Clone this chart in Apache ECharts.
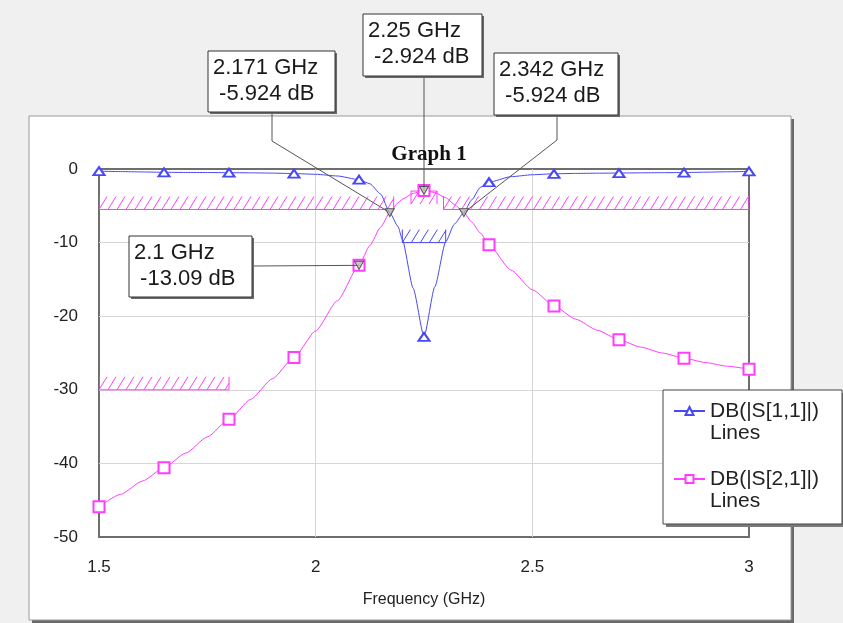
<!DOCTYPE html>
<html>
<head>
<meta charset="utf-8">
<script src="https://cdn.jsdelivr.net/npm/echarts@6/dist/echarts.min.js"></script>
<style>
  html, body { margin: 0; padding: 0; background: #f0f0f0; }
  #main { width: 843px; height: 623px; }
</style>
</head>
<body>
<div id="main"></div>
<script>
// 频率点 (GHz)
var freq = [1.5, 1.55, 1.6, 1.65, 1.7, 1.75, 1.8, 1.85, 1.9, 1.95, 2.0, 2.05, 2.1, 2.125, 2.15, 2.171, 2.19, 2.2,
            2.225, 2.25, 2.275, 2.3, 2.32, 2.342, 2.36, 2.38, 2.4, 2.45, 2.5, 2.55, 2.6, 2.65, 2.7, 2.75, 2.8,
            2.85, 2.9, 2.95, 3.0];
// DB(|S[1,1]|)
var s11 = [-0.3, -0.35, -0.4, -0.45, -0.47, -0.48, -0.5, -0.52, -0.56, -0.62, -0.72, -0.95, -1.45, -2.0, -3.4,
           -5.924, -7.8, -9.6, -16.2, -22.8, -16.0, -9.9, -7.5, -5.924, -4.2, -2.5, -1.8, -1.05, -0.78, -0.65,
           -0.6, -0.57, -0.55, -0.52, -0.5, -0.48, -0.43, -0.38, -0.33];
// DB(|S[2,1]|)
var s21 = [-45.9, -44.2, -42.4, -40.6, -38.6, -36.4, -34.0, -31.3, -28.5, -25.6, -22.0, -17.9, -13.09, -10.4,
           -7.9, -5.924, -4.6, -4.1, -3.3, -2.924, -3.2, -3.9, -4.8, -5.924, -7.2, -8.7, -10.3, -13.7, -16.4,
           -18.6, -20.4, -21.9, -23.2, -24.2, -25.0, -25.7, -26.3, -26.8, -27.2];
// 曲线上显示符号的频率
var symbolFreq = [1.5, 1.65, 1.8, 1.95, 2.1, 2.25, 2.4, 2.55, 2.7, 2.85, 3.0];

// 标记点
var markerFreq = [2.171, 2.25, 2.342, 2.1];
var markerDb = [-5.924, -2.924, -5.924, -13.09];

// 优化目标 (阴影线)
var maskFrom  = [1.5, 2.295, 1.5, 2.22, 2.2];
var maskTo    = [2.18, 3.0, 1.8, 2.28, 2.3];
var maskLevel = [-5.5, -5.5, -30, -3, -10];
var maskSide  = [1, 1, 1, -1, 1];   // 1 = 上方阴影, -1 = 下方
var maskTrace = [1, 1, 1, 1, 0];    // 0 = S11, 1 = S21

var names = ['DB(|S[1,1]|)\nLines', 'DB(|S[2,1]|)\nLines'];
var colors = ['#4848f4', '#ff3cff'];
var font = '"Liberation Sans", Arial, sans-serif';

// 标注框位置
var boxes = [
  {x: 208, y: 51, w: 127, h: 61, anchor: [272, 112], elbow: [272, 141]},
  {x: 363, y: 14, w: 119, h: 62, anchor: null, elbow: null},
  {x: 494, y: 53, w: 124, h: 62, anchor: [557, 115], elbow: [557, 140]},
  {x: 129, y: 236, w: 123, h: 61, anchor: [252, 266], elbow: null}
];

function isSymbolFreq(f) {
  for (var i = 0; i < symbolFreq.length; i++) {
    if (Math.abs(symbolFreq[i] - f) < 1e-6) return true;
  }
  return false;
}
function lineData(vals) {
  return freq.map(function (f, i) {
    return isSymbolFreq(f) ? [f, vals[i]] : {value: [f, vals[i]], symbol: 'none'};
  });
}

var maskData = maskFrom.map(function (f, i) {
  return [f, maskTo[i], maskLevel[i], maskSide[i], maskTrace[i]];
});

function renderMask(params, api) {
  var lv = api.value(2), side = api.value(3), col = colors[api.value(4)];
  var a = api.coord([api.value(0), lv]), b = api.coord([api.value(1), lv]);
  var h = 13, step = 9, dx = 8;
  var st = {stroke: col, lineWidth: 1};
  var kids = [
    {type: 'line', shape: {x1: a[0], y1: a[1], x2: b[0], y2: b[1]}, style: st},
    {type: 'line', shape: {x1: a[0], y1: a[1], x2: a[0], y2: a[1] - h * side}, style: st},
    {type: 'line', shape: {x1: b[0], y1: a[1], x2: b[0], y2: a[1] - h * side}, style: st}
  ];
  for (var x = a[0]; x < b[0] - 1; x += step) {
    var xe = Math.min(x + dx, b[0]);
    var fr = (xe - x) / dx;
    if (side > 0) {
      kids.push({type: 'line', shape: {x1: x, y1: a[1], x2: xe, y2: a[1] - h * fr}, style: st});
    } else {
      kids.push({type: 'line', shape: {x1: x, y1: a[1] + h * fr, x2: xe, y2: a[1]}, style: st});
    }
  }
  return {type: 'group', children: kids};
}

var myChart = echarts.init(document.getElementById('main'));

var option = {
  backgroundColor: '#f0f0f0',
  animation: false,
  textStyle: {fontFamily: font},
  title: {
    text: 'Graph 1',
    left: 424, top: 139, textAlign: 'center',
    textStyle: {fontFamily: '"Liberation Serif", "Times New Roman", serif', fontWeight: 'bold', fontSize: 21, color: '#111'}
  },
  grid: {
    left: 99, right: 94, top: 169, bottom: 86,
    show: true, borderColor: '#6e6e6e', borderWidth: 2, backgroundColor: '#fff',
    outerBoundsMode: 'none'
  },
  legend: {
    orient: 'vertical', left: 673, top: 378, itemGap: 2, padding: 0,
    itemWidth: 31, itemHeight: 10, selectedMode: false,
    data: names,
    // 空行使第一行文字与图标对齐
    formatter: function (name) { return '\n' + name; },
    textStyle: {fontSize: 21, lineHeight: 22, color: '#222', fontFamily: font}
  },
  xAxis: {
    type: 'value', min: 1.5, max: 3, interval: 0.5,
    name: 'Frequency (GHz)', nameLocation: 'middle', nameGap: 55,
    nameTextStyle: {fontSize: 16, color: '#222', fontFamily: font},
    axisLine: {show: false}, axisTick: {show: false},
    axisLabel: {margin: 22, fontSize: 17, color: '#222', fontFamily: font},
    splitLine: {show: true, showMinLine: false, showMaxLine: false, lineStyle: {color: '#d6d6d6', width: 1}}
  },
  yAxis: {
    type: 'value', min: -50, max: 0, interval: 10,
    axisLine: {show: false}, axisTick: {show: false},
    axisLabel: {margin: 21, fontSize: 17, color: '#222', fontFamily: font},
    splitLine: {show: true, showMinLine: false, showMaxLine: false, lineStyle: {color: '#d6d6d6', width: 1}}
  },
  series: [
    {
      type: 'custom', name: 'masks', coordinateSystem: 'cartesian2d',
      renderItem: renderMask, data: maskData, clip: true, z: 1, silent: true,
      encode: {x: [0, 1], y: 2}
    },
    {
      name: names[0], type: 'line', data: lineData(s11),
      smooth: 0.2, smoothMonotone: 'x',
      symbol: 'emptyTriangle', symbolSize: [11, 8], showAllSymbol: true,
      itemStyle: {color: colors[0]}, lineStyle: {color: colors[0], width: 1}, z: 3
    },
    {
      name: names[1], type: 'line', data: lineData(s21),
      smooth: 0.2, smoothMonotone: 'x',
      symbol: 'emptyRect', symbolSize: 11, showAllSymbol: true,
      itemStyle: {color: colors[1]}, lineStyle: {color: colors[1], width: 1}, z: 3
    },
    {
      name: 'markers', type: 'scatter',
      data: markerFreq.map(function (f, i) { return [f, markerDb[i]]; }),
      symbol: 'triangle', symbolRotate: 180, symbolSize: [9, 8],
      itemStyle: {color: '#b8b8b8', borderColor: '#333', borderWidth: 1}, z: 6
    }
  ]
};
myChart.setOption(option);

// 标注框与引线
var gfx = [
  {type: 'rect', z: -2, shape: {x: 32, y: 119, width: 762, height: 504}, style: {fill: '#6a6a6a'}},
  {type: 'rect', z: -1, shape: {x: 29, y: 116, width: 762, height: 504}, style: {fill: '#fff', stroke: '#9a9a9a', lineWidth: 1}},
  {type: 'rect', z: 3, shape: {x: 666, y: 393, width: 179, height: 134}, style: {fill: '#7a7a7a'}},
  {type: 'rect', z: 3, shape: {x: 663, y: 390, width: 179, height: 134}, style: {fill: '#fff', stroke: '#444', lineWidth: 1}}
];
boxes.forEach(function (b, i) {
  var p = myChart.convertToPixel({seriesIndex: 3}, [markerFreq[i], markerDb[i]]);
  var pts = [];
  if (b.anchor) {
    pts.push(b.anchor);
    if (b.elbow) pts.push(b.elbow);
  } else {
    pts.push([p[0], b.y + b.h]);
  }
  pts.push(p);
  gfx.push({type: 'polyline', z: 5, shape: {points: pts}, style: {stroke: '#555', lineWidth: 1, fill: null}});
  gfx.push({type: 'rect', z: 9, shape: {x: b.x + 2, y: b.y + 2, width: b.w, height: b.h}, style: {fill: '#6a6a6a'}});
  gfx.push({type: 'rect', z: 10, shape: {x: b.x, y: b.y, width: b.w, height: b.h}, style: {fill: '#fff', stroke: '#333', lineWidth: 1}});
  gfx.push({
    type: 'text', z: 11, x: b.x + 5, y: b.y + 4,
    style: {
      text: markerFreq[i] + ' GHz\n ' + markerDb[i] + ' dB',
      font: '22px ' + font, fill: '#1a1a1a', lineHeight: 26, verticalAlign: 'top'
    }
  });
});
myChart.setOption({graphic: gfx});
</script>
</body>
</html>
